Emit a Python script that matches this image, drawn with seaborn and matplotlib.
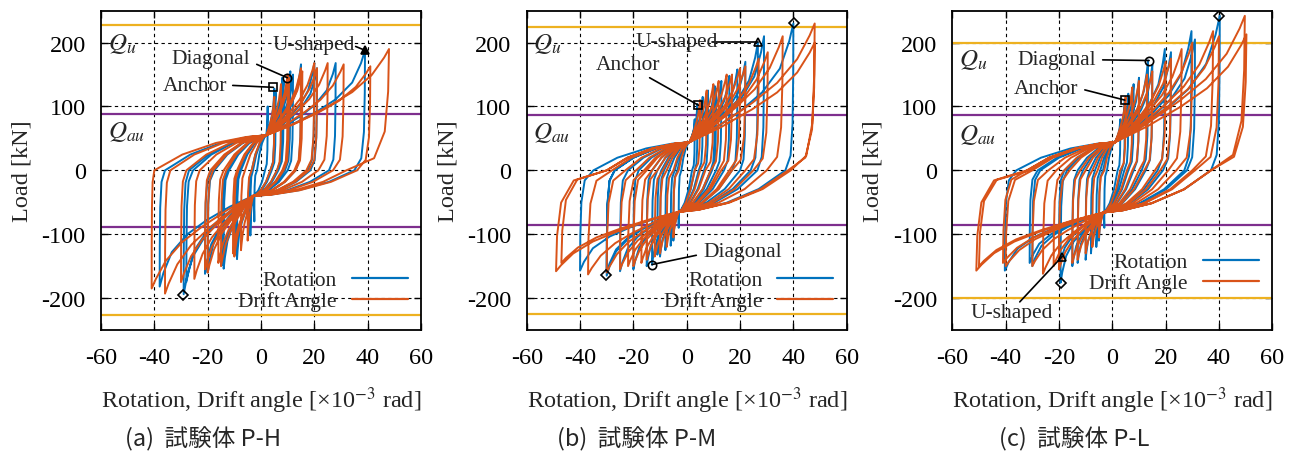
import numpy as np
import pandas as pd
import matplotlib
matplotlib.use("Agg")
import matplotlib.pyplot as plt
import seaborn as sns
from matplotlib.lines import Line2D

# ---------------- data ----------------
# Panel (a) P-H  : peaks (PX,PY)/(NX,NY), zero-load residuals after unloading (RP, RN)
PH_ROT_PX = [2.5, 5, 5.5, 8, 8.5, 11, 12, 15, 20, 21, 28, 39]
PH_ROT_PY = [100, 128, 122, 145, 140, 155, 150, 166, 168, 160, 168, 188]
PH_ROT_NX = [-2.5, -4, -4.5, -9, -9.5, -14, -14.5, -20, -21, -28, -29, -38]
PH_ROT_NY = [-80, -102, -98, -139, -132, -154, -148, -160, -162, -175, -194, -182]
PH_ROT_RP = [1.5, 3.5, 4, 6, 6.5, 9, 10, 13, 17.5, 18.5, 25.5, 35]
PH_ROT_RN = [-1.5, -3, -3.5, -7.5, -8, -12, -12.5, -17.5, -18.5, -25.5, -27, -36]

PH_DRF_PX = [5, 7.5, 10, 10.5, 15, 15.5, 20, 21, 25, 31, 41, 48]
PH_DRF_PY = [115, 135, 150, 145, 160, 155, 168, 160, 168, 166, 163, 190]
PH_DRF_NX = [-5, -7.5, -10, -10.5, -15, -16, -20, -21, -25, -30, -36, -41]
PH_DRF_NY = [-110, -125, -135, -130, -150, -145, -160, -155, -170, -175, -193, -185]
PH_DRF_RP = [3.5, 6, 8, 8.5, 12.5, 13, 17, 18, 21.5, 27, 36, 32]
PH_DRF_RN = [-3.5, -6, -8.5, -9, -13, -14, -18, -19, -23, -28, -34, -40]

# Panel (b) P-M
PM_ROT_PX = [3, 4, 6, 8, 10.5, 11, 13, 16, 19, 22, 26.7, 29, 40]
PM_ROT_PY = [80, 104, 115, 125, 132, 128, 140, 148, 158, 170, 200, 210, 230]
PM_ROT_NX = [-3, -5, -6, -8, -10, -11, -13, -15, -20, -25, -30, -30, -40]
PM_ROT_NY = [-90, -110, -118, -125, -135, -132, -148, -150, -155, -158, -160, -165, -157]
PM_ROT_RP = [2, 3, 4.5, 6.5, 9, 9.5, 11, 14, 17, 20, 24, 26.5, 37]
PM_ROT_RN = [-2, -3.5, -4.5, -6.5, -8.5, -9.5, -11, -13, -18, -22, -27, -27, -35]

PM_DRF_PX = [5, 7.5, 10, 12, 15, 17, 20, 22, 27, 30.4, 36, 48, 48]
PM_DRF_PY = [110, 125, 135, 140, 150, 150, 160, 163, 175, 185, 210, 230, 200]
PM_DRF_NX = [-5, -7.5, -10, -12, -15, -17, -20, -22, -25, -30, -37, -49, -47]
PM_DRF_NY = [-105, -120, -130, -135, -140, -145, -150, -150, -155, -160, -163, -158, -145]
PM_DRF_RP = [3, 5, 7, 9, 12, 13, 16, 17, 22, 25, 30, 39, 38]
PM_DRF_RN = [-3, -5, -7.5, -9, -11, -13, -15, -16, -19, -23, -28, -30, -30]

# Panel (c) P-L
PL_ROT_PX = [3, 4.7, 6, 8, 10, 13.4, 15, 19.7, 22, 29.7, 31, 40.3]
PL_ROT_PY = [80, 111, 120, 135, 145, 172, 165, 190, 185, 218, 205, 242]
PL_ROT_NX = [-3, -5, -6, -8, -10, -13, -15, -19.4, -20, -30, -31, -40.3]
PL_ROT_NY = [-90, -110, -120, -130, -140, -145, -150, -176, -155, -150, -145, -157]
PL_ROT_RP = [2, 3.5, 4.5, 6, 8, 11, 12.5, 17, 19, 27, 28, 37]
PL_ROT_RN = [-2, -3.5, -4.5, -6.5, -8.5, -11, -13, -17, -18, -27, -28, -36]

PL_DRF_PX = [5, 7.5, 10, 13, 15, 20, 22, 26, 30, 37.8, 40, 49.7, 50.3]
PL_DRF_PY = [115, 130, 140, 150, 155, 170, 175, 190, 200, 218, 210, 242, 213]
PL_DRF_NX = [-5, -7.5, -10, -13, -15, -20, -22, -26, -30, -40, -41, -51, -50]
PL_DRF_NY = [-105, -120, -130, -140, -145, -155, -150, -162, -150, -150, -145, -157, -150]
PL_DRF_RP = [3, 5.5, 7.5, 10, 12, 16, 18, 21, 24, 30, 31, 37, 37]
PL_DRF_RN = [-3, -5.5, -7.5, -10, -12, -16, -18, -21, -24, -30, -32, -32, -31]

# pinch points (x, load) of each specimen: positive and negative side
PH_PINCH = [(2, 55), (-3, -40)]
PM_PINCH = [(1, 44), (-3, -65)]
PL_PINCH = [(1, 44), (-3.4, -66)]

# reference strengths
QU = [227, 225, 200]
QAU = [88, 86, 86]

CAPTIONS = ["(a)  試験体 P-H", "(b)  試験体 P-M", "(c)  試験体 P-L"]
SERIES = ["Rotation", "Drift Angle"]
X_TICKS = [-60, -40, -20, 0, 20, 40, 60]
Y_TICKS = [-200, -100, 0, 100, 200]

# marked points
MARK_PANEL = [0, 0, 0, 0, 1, 1, 1, 1, 1, 2, 2, 2, 2, 2]
MARK_TYPE = ["s", "o", "^", "D", "s", "^", "D", "o", "D", "D", "o", "s", "^", "D"]
MARK_X = [4.6, 9.9, 39, -29.1, 4.4, 26.7, 40.1, -13, -30.1, 40, 13.8, 4.7, -18.8, -19.3]
MARK_Y = [130, 145, 188, -195, 102, 201, 230, -147.5, -164.6, 241.6, 172, 110, -135, -176]
MARK_FILL = [False, False, True, False, False, False, False, False, False,
             False, False, False, False, False]

# labels with leader lines
LAB_PANEL = [0, 0, 0, 1, 1, 1, 2, 2, 2]
LAB_TEXT = ["Anchor", "Diagonal", "U-shaped", "Anchor", "U-shaped", "Diagonal",
            "Diagonal", "Anchor", "U-shaped"]
LAB_TX = [-24.8, -19, 19.6, -22, -3.9, 21, -21, -24.7, -37.8]
LAB_TY = [133, 175, 197, 166, 202.5, -126.6, 173, 128, -222]
LAB_LX = [-10.6, -1.6, 35.5, -13.9, 9.5, 3.6, -3.6, -10.3, -34.7]
LAB_LY = [133, 166, 194, 145, 201, -133, 173, 126, -206]
LAB_MARK = [0, 1, 2, 4, 5, 7, 10, 11, 12]

BLUE = "#0072BD"
ORANGE = "#D95319"
GOLD = "#EDB120"
PURPLE = "#7E2F8E"

# loop-shape templates (fractions along each branch)
SHAPE_FINGER = [(0.25, 0.12), (0.5, 0.27), (0.7, 0.42), (0.87, 0.62), (0.96, 0.85)]
SHAPE_LENS = [(0.25, 0.15), (0.5, 0.33), (0.7, 0.5), (0.86, 0.7), (0.96, 0.9)]
UNLOAD = [(0.02, 0.35), (0.1, 0.68), (0.35, 0.9)]
SLIP = [(0.25, 0.45), (0.55, 0.78), (0.82, 0.95)]


def half(a, b, a2, b2, xp, yp, r, load):
    pts = [(a, b)]
    pts += [(a + fx * (xp - a), b + fy * (yp - b)) for fx, fy in load]
    pts.append((xp, yp))
    pts += [(xp - tx * (xp - r), yp * (1 - ty)) for tx, ty in UNLOAD]
    pts.append((r, 0))
    pts += [(r + sx * (a2 - r), sy * b2) for sx, sy in SLIP]
    return pts


def build_path(px, py, nx, ny, rp, rn, pinch, load):
    (a, b), (a2, b2) = pinch
    xs, ys = [], []
    for xp, yp, xn, yn, r1, r2 in zip(px, py, nx, ny, rp, rn):
        pts = half(a, b, a2, b2, xp, yp, r1, load) + half(a2, b2, a, b, xn, yn, r2, load)
        for x, y in pts:
            xs.append(x)
            ys.append(y)
    xs.append(a)
    ys.append(b)
    return xs, ys


PANELS = [
    (PH_PINCH, [(PH_ROT_PX, PH_ROT_PY, PH_ROT_NX, PH_ROT_NY, PH_ROT_RP, PH_ROT_RN),
                (PH_DRF_PX, PH_DRF_PY, PH_DRF_NX, PH_DRF_NY, PH_DRF_RP, PH_DRF_RN)]),
    (PM_PINCH, [(PM_ROT_PX, PM_ROT_PY, PM_ROT_NX, PM_ROT_NY, PM_ROT_RP, PM_ROT_RN),
                (PM_DRF_PX, PM_DRF_PY, PM_DRF_NX, PM_DRF_NY, PM_DRF_RP, PM_DRF_RN)]),
    (PL_PINCH, [(PL_ROT_PX, PL_ROT_PY, PL_ROT_NX, PL_ROT_NY, PL_ROT_RP, PL_ROT_RN),
                (PL_DRF_PX, PL_DRF_PY, PL_DRF_NX, PL_DRF_NY, PL_DRF_RP, PL_DRF_RN)]),
]
PANEL_SHAPES = [(SHAPE_FINGER, SHAPE_LENS)] * 3

sns.set_theme(style="ticks")
plt.rcParams["font.family"] = ["Liberation Serif", "DejaVu Serif"]
plt.rcParams["mathtext.fontset"] = "stix"
plt.rcParams["axes.unicode_minus"] = False

fig = plt.figure(figsize=(13.01, 4.52), dpi=100)
lefts = [101 / 1301, 526.7 / 1301, 952.3 / 1301]
W = 320 / 1301
B = 121 / 452
H = 319.3 / 452
legend_y = [0.058, 0.058, 0.115]
cap_x = [203 / 1301, 637 / 1301, 1074 / 1301]
qu_y = [200, 200, 174]
qau_y = [62, 60, 57]

for i, (pinch, series) in enumerate(PANELS):
    ax = fig.add_axes([lefts[i], B, W, H])
    frames = []
    for s, (name, d) in enumerate(zip(SERIES, series)):
        xs, ys = build_path(*d, pinch, PANEL_SHAPES[i][s])
        frames.append(pd.DataFrame({"x": xs, "y": ys, "series": name}))
    df = pd.concat(frames, ignore_index=True)
    sns.lineplot(data=df, x="x", y="y", hue="series", sort=False, estimator=None,
                 palette={"Rotation": BLUE, "Drift Angle": ORANGE},
                 linewidth=1.4, legend=False, ax=ax, zorder=3)

    for v in (QU[i], -QU[i]):
        ax.axhline(v, color=GOLD, lw=1.6, zorder=2)
    for v in (QAU[i], -QAU[i]):
        ax.axhline(v, color=PURPLE, lw=1.6, zorder=2)

    ax.set_xlim(-60, 60)
    ax.set_ylim(-250, 250)
    ax.set_xticks(X_TICKS)
    ax.set_yticks(Y_TICKS)
    ax.set_xticklabels([str(t) for t in X_TICKS])
    ax.set_yticklabels([str(t) for t in Y_TICKS])
    ax.tick_params(direction="in", length=5, width=1, top=True, right=True,
                   labelsize=17.5, colors="black")
    ax.tick_params(axis="x", pad=12)
    ax.tick_params(axis="y", pad=11)
    for g in [-40, -20, 0, 20, 40]:
        ax.axvline(g, color="black", lw=0.8, ls=(0, (3, 3)), zorder=1)
    for g in Y_TICKS:
        ax.axhline(g, color="black", lw=0.8, ls=(0, (3, 3)), zorder=1)
    for sp in ax.spines.values():
        sp.set_linewidth(1.3)
        sp.set_color("black")
    ax.set_xlabel(r"Rotation, Drift angle [×10$^{-3}$ rad]", fontsize=17.5)
    ax.set_ylabel("Load [kN]", fontsize=17.5)
    ax.yaxis.set_label_coords(-0.214, 0.5)
    ax.xaxis.set_label_coords(0.5, -0.17)

    ax.text(-57.5, qu_y[i], r"$Q_u$", fontsize=18, ha="left", va="center", zorder=4)
    ax.text(-57.5, qau_y[i], r"$Q_{au}$", fontsize=18, ha="left", va="center", zorder=4)

    for p, m, x, y, f in zip(MARK_PANEL, MARK_TYPE, MARK_X, MARK_Y, MARK_FILL):
        if p != i:
            continue
        ax.plot([x], [y], marker=m, ms=6 if m != "D" else 5, mec="black", mew=1.2,
                mfc="black" if f else "none", ls="none", zorder=6)
    for p, t, tx, ty, lx, ly, mi in zip(LAB_PANEL, LAB_TEXT, LAB_TX, LAB_TY,
                                         LAB_LX, LAB_LY, LAB_MARK):
        if p != i:
            continue
        ax.plot([lx, MARK_X[mi]], [ly, MARK_Y[mi]], color="black", lw=1.2, zorder=5)
        ax.text(tx, ty, t, fontsize=15.5, ha="center", va="center", zorder=6)

    handles = [Line2D([], [], color=BLUE, lw=1.6), Line2D([], [], color=ORANGE, lw=1.6)]
    ax.legend(handles, SERIES, loc="lower right", bbox_to_anchor=(0.958, legend_y[i]),
              frameon=False, markerfirst=False, fontsize=15.5, handlelength=2.6,
              handletextpad=0.7, labelspacing=0.05, borderpad=0, borderaxespad=0)

    fig.text(cap_x[i], 13 / 452, CAPTIONS[i], ha="center", va="center",
             fontsize=17, family=["Noto Sans CJK JP", "DejaVu Sans"])

fig.savefig("out.png", dpi=100)
